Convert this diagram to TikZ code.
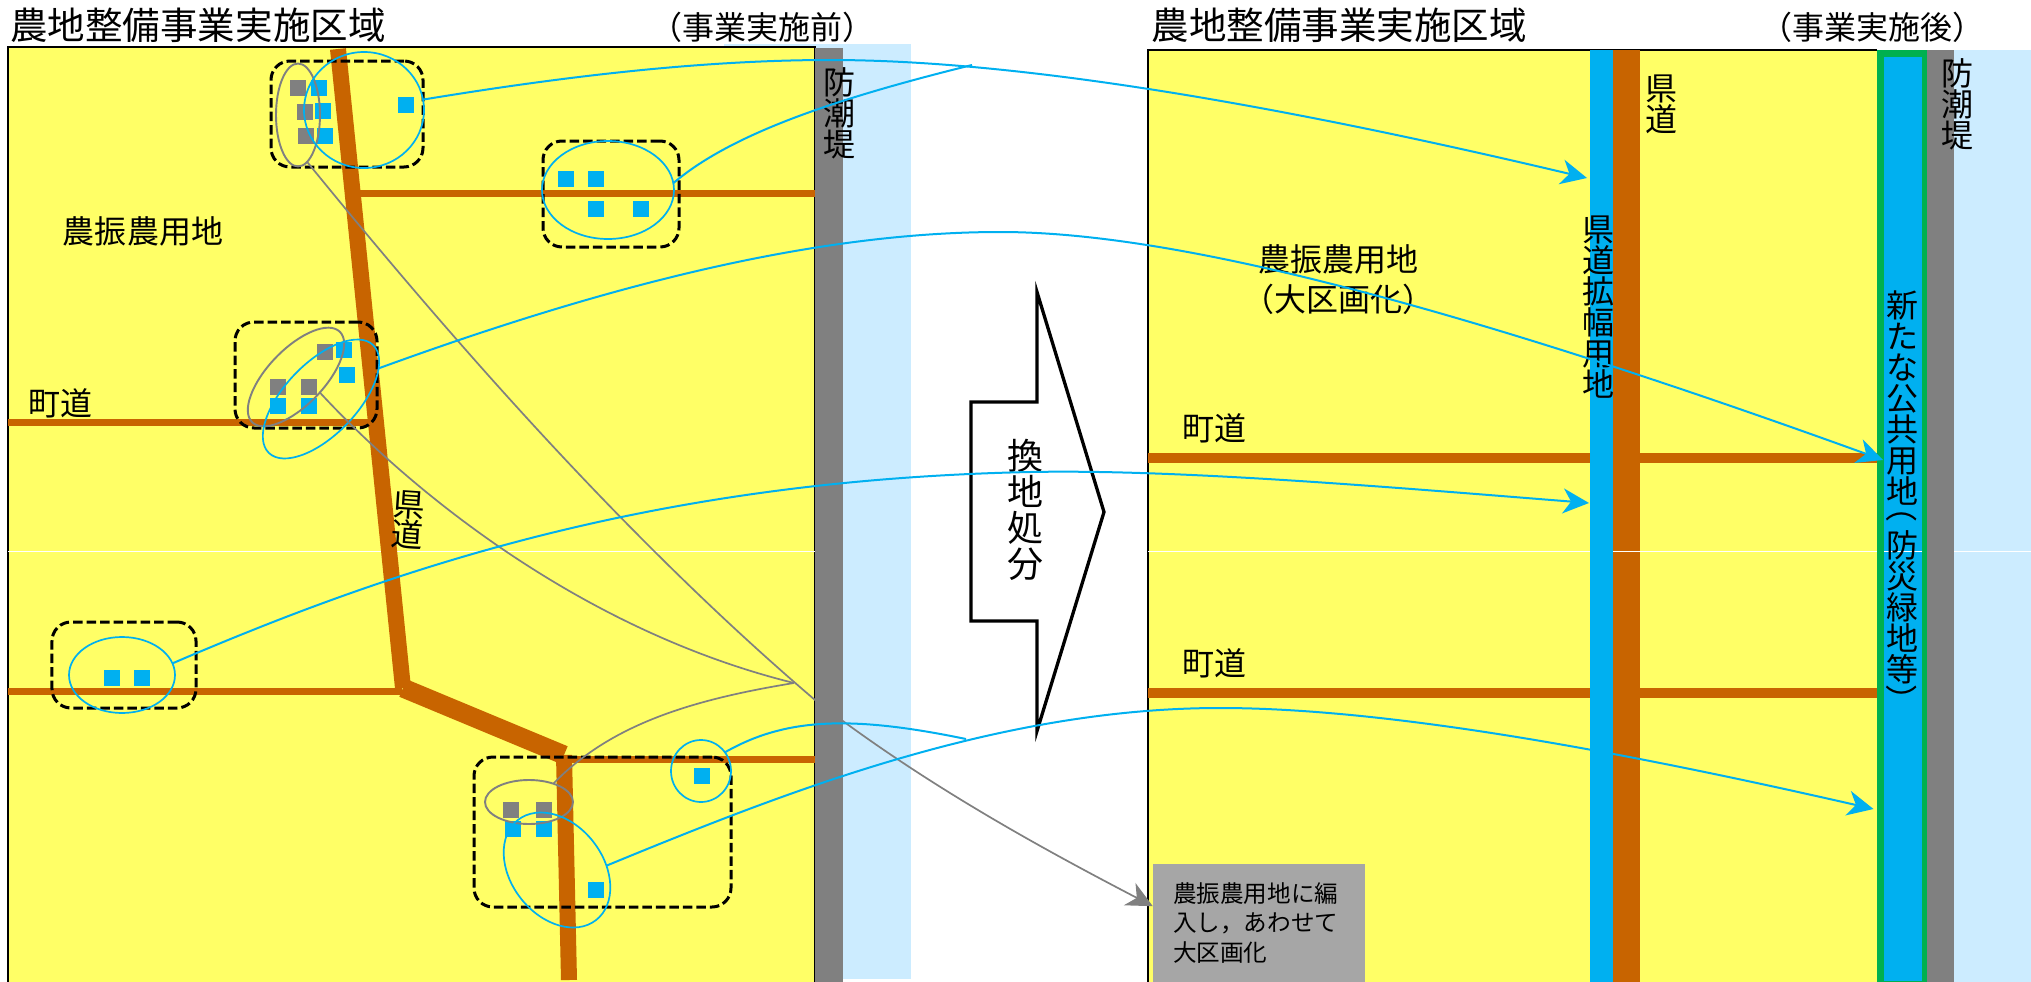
\documentclass[tikz,border=0pt]{standalone}
\usepackage{graphicx}
\usepackage{fontspec}
\setmainfont{Noto Sans CJK JP}
\usepackage{tikz}
\usetikzlibrary{%
arrows.meta,
shapes.geometric}

\definecolor{fieldcol}{HTML}{FFFF66}
\definecolor{roadcol}{HTML}{C86400}
\definecolor{lotblue}{HTML}{00B0F0}
\definecolor{wallcol}{HTML}{808080}
\definecolor{seacol}{HTML}{CCECFF}
\definecolor{greencol}{HTML}{00B050}
\definecolor{notecol}{HTML}{A6A6A6}

\tikzset{
  titleText/.style={font=\fontsize{37.5bp}{37.5bp}\selectfont,inner sep=0pt},
  stageText/.style={font=\fontsize{32bp}{32bp}\selectfont,inner sep=0pt},
  mapText/.style={font=\fontsize{32bp}{31bp}\selectfont,inner sep=0pt,align=center},
  lotBox/.style={draw=black,rounded corners=19bp,line width=3bp,dash pattern=on 9.5bp off 4bp},
  blueOval/.style={ellipse,draw=lotblue,line width=1.7bp,inner sep=0pt,outer sep=0pt},
  grayOval/.style={ellipse,draw=wallcol,line width=1.9bp,inner sep=0pt,outer sep=0pt},
  blueLot/.style={fill=lotblue,minimum size=16bp,inner sep=0pt},
  grayLot/.style={fill=wallcol,minimum size=16bp,inner sep=0pt},
  blueEdge/.style={draw=lotblue,line width=2bp},
  grayEdge/.style={draw=wallcol,line width=1.7bp}
}

\begin{document}
\begin{tikzpicture}[x=1bp,y=-1bp,>={Stealth[length=26bp,width=25bp,inset=8bp]},line join=miter]
  \useasboundingbox (0,0) rectangle (2031,982);
%% left map
  \fill[seacol] (724,44) rectangle (911,979);
  \fill[fieldcol] (8,47) rectangle (815,982);
  \draw[line width=2bp] (8,982) -- (8,47) -- (815,47) -- (815,982);
  \fill[wallcol] (815,48) rectangle (843,982);
  \draw[white,line width=0.7bp] (8,551) -- (815,551);
  % roads
  \draw[roadcol,line width=7bp] (355,193) -- (815,193);
  \draw[roadcol,line width=7bp] (8,422) -- (370,422);
  \draw[roadcol,line width=7bp] (8,691) -- (402,691);
  \draw[roadcol,line width=7bp] (564,759) -- (815,759);
  \draw[roadcol,line width=16bp,line join=round] (338,49) -- (403,688);
  \draw[roadcol,line width=19bp,line join=round] (403,688) -- (564,755);
  \draw[roadcol,line width=16bp] (564,755) -- (569,980);
%% right map
  \fill[fieldcol] (1148,50) rectangle (1877,982);
  \draw[line width=2.5bp] (1148,982) -- (1148,50) -- (1877,50);
  \draw[white,line width=0.7bp] (1148,551) -- (1877,551);
  \draw[roadcol,line width=10bp] (1148,458) -- (1877,458);
  \draw[roadcol,line width=10bp] (1148,693) -- (1877,693);
  \fill[lotblue] (1590,50) rectangle (1613,982);
  \fill[roadcol] (1613,50) rectangle (1640,982);
  \fill[greencol] (1877,50) rectangle (1927,982);
  \fill[lotblue] (1884,57) rectangle (1922,981);
  \fill[wallcol] (1927,50) rectangle (1954,982);
  \fill[seacol] (1954,50) rectangle (2031,982);
  \draw[white,line width=0.7bp] (1613,551) -- (1640,551);
  \draw[white,line width=0.7bp] (1884,551) -- (1922,551);
  \draw[white,line width=0.7bp] (1954,551) -- (2031,551);
  % Node: lot boxes
  \node[lotBox,minimum width=152bp,minimum height=106bp] (boxNorth) at (347,114) {};
  \node[lotBox,minimum width=136bp,minimum height=106bp] (boxEast) at (611,194) {};
  \node[lotBox,minimum width=142bp,minimum height=106bp] (boxMid) at (306,375) {};
  \node[lotBox,minimum width=144bp,minimum height=86bp] (boxWest) at (124,665) {};
  \node[lotBox,minimum width=257bp,minimum height=150bp] (boxSouth) at (602.5,832) {};
  % Node: lots
  \foreach \px/\py [count=\i] in {298/88,305/112,306/136,325/352,278/387,309/387,511/810,544/810}
    \node[grayLot] (grayLot\i) at (\px,\py) {};
  \foreach \px/\py [count=\i] in {319/88,323/111,325/136,406/105,566/179,596/179,596/209,641/209,
      344/350,347/375,278/406,309/406,112/678,142/678,513/829,544/829,596/890,702/776}
    \node[blueLot] (blueLot\i) at (\px,\py) {};
  % Node: ovals
  \node[grayOval,minimum width=44bp,minimum height=103bp] (ovalGrayNorth) at (298,115) {};
  \node[blueOval,minimum width=120bp,minimum height=116bp] (ovalNorth) at (364,110) {};
  \node[blueOval,minimum width=132bp,minimum height=98bp] (ovalEast) at (608,190) {};
  \node[grayOval,minimum width=126bp,minimum height=56bp,rotate=46] (ovalGrayMid) at (296,377) {};
  \node[blueOval,minimum width=150bp,minimum height=72bp,rotate=46] (ovalMid) at (321,399) {};
  \node[blueOval,minimum width=106bp,minimum height=76bp] (ovalWest) at (122,675) {};
  \node[grayOval,minimum width=88bp,minimum height=44bp] (ovalGraySouth) at (529,802) {};
  \node[blueOval,minimum width=127bp,minimum height=92bp,rotate=-52] (ovalSouth) at (557,870) {};
  \node[blueOval,minimum width=60bp,minimum height=62bp] (ovalCoast) at (701,771) {};
  % Node: labels
  \node[titleText] (titleBefore) at (198,25) {農地整備事業実施区域};
  \node[stageText] (stageBefore) at (762.5,27) {（事業実施前）};
  \node[titleText] (titleAfter) at (1339,25) {農地整備事業実施区域};
  \node[stageText] (stageAfter) at (1872,27) {（事業実施後）};
  \node[mapText] (farmBefore) at (143,231) {農振農用地};
  \node[mapText] (townBefore) at (60,403) {町道};
  \node[mapText,rotate=-4] (prefBefore) at (408,520) {県\\道};
  \node[mapText] (dikeBefore) at (839,113) {防\\潮\\堤};
  \node[mapText,font=\fontsize{32bp}{40bp}\selectfont] (farmAfter) at (1338,280) {農振農用地\\（大区画化）};
  \node[mapText] (townNorth) at (1214,428) {町道};
  \node[mapText] (townSouth) at (1214,663) {町道};
  \node[mapText] (prefAfter) at (1661,104) {県\\道};
  \node[mapText] (dikeAfter) at (1957,104) {防\\潮\\堤};
  \node[mapText] (widenStrip) at (1598,307) {県\\道\\拡\\幅\\用\\地};
  \node[mapText,anchor=north] (publicStrip) at (1902,291) {新\\た\\な\\公\\共\\用\\地\\[-16bp]\rotatebox[origin=c]{-90}{（}\\[8bp]防\\災\\緑\\地\\等\\\rotatebox[origin=c]{-90}{）}};
  % Node: block arrow
  \draw[fill=white,line width=3.3bp] (971,402) -- (1037,402) -- (1037,292) -- (1104,512) -- (1037,731) -- (1037,621) -- (971,621) -- cycle;
  \node[mapText,font=\fontsize{36bp}{36bp}\selectfont] (replot) at (1025,510) {換\\地\\処\\分};
  % Node: note
  \node[fill=notecol,minimum width=212bp,minimum height=118bp,text width=172bp,inner xsep=20bp,inner ysep=0pt,align=left,
    font=\fontsize{23.6bp}{29.5bp}\selectfont] (note) at (1259,923) {農振農用地に編\\入し，あわせて\\大区画化};
  % Edge tips
  \coordinate (tipWidenNorth) at (1587,178);
  \coordinate (tipPublicNorth) at (1883,460);
  \coordinate (tipWidenSouth) at (1589,503);
  \coordinate (tipPublicSouth) at (1873.5,809);
  \coordinate (joinNorth) at (972,65);
  \coordinate (joinSouth) at (966,739);
  \coordinate (joinGray) at (794,683);
  % Edge: ovalGrayNorth -> note
  \draw[grayEdge,->] (ovalGrayNorth.-79) .. controls (478,372) and (645,555) .. (815,700) .. controls (925,785) and (1045,850) .. (note.171);
  % Edge: ovalGrayMid -> joinGray
  \draw[grayEdge] (ovalGrayMid.-79) .. controls (410,490) and (580,630) .. (joinGray);
  % Edge: ovalGraySouth -> joinGray
  \draw[grayEdge] (ovalGraySouth.37) .. controls (610,725) and (690,700) .. (joinGray);
  % Edge: ovalNorth -> widen strip
  \draw[blueEdge,->] (ovalNorth.10) .. controls (560,77) and (700,60) .. (830,60) .. controls (1030,60) and (1300,110) .. (tipWidenNorth);
  % Edge: ovalEast -> joinNorth
  \draw[blueEdge] (ovalEast.6) .. controls (730,135) and (830,100) .. (joinNorth);
  % Edge: ovalMid -> public strip
  \draw[blueEdge,->] (ovalMid.-18) .. controls (580,295) and (800,232) .. (1000,232) .. controls (1150,232) and (1400,285) .. (tipPublicNorth);
  % Edge: ovalWest -> widen strip
  \draw[blueEdge,->] (ovalWest.13) .. controls (390,570) and (650,480) .. (1030,472) .. controls (1180,469) and (1400,488) .. (tipWidenSouth);
  % Edge: ovalCoast -> joinSouth
  \draw[blueEdge] (ovalCoast.38) .. controls (785,718) and (850,715) .. (joinSouth);
  % Edge: ovalSouth -> public strip
  \draw[blueEdge,->] (ovalSouth.57) .. controls (790,790) and (1000,708) .. (1220,708) .. controls (1400,708) and (1650,758) .. (tipPublicSouth);
\end{tikzpicture}
\end{document}
